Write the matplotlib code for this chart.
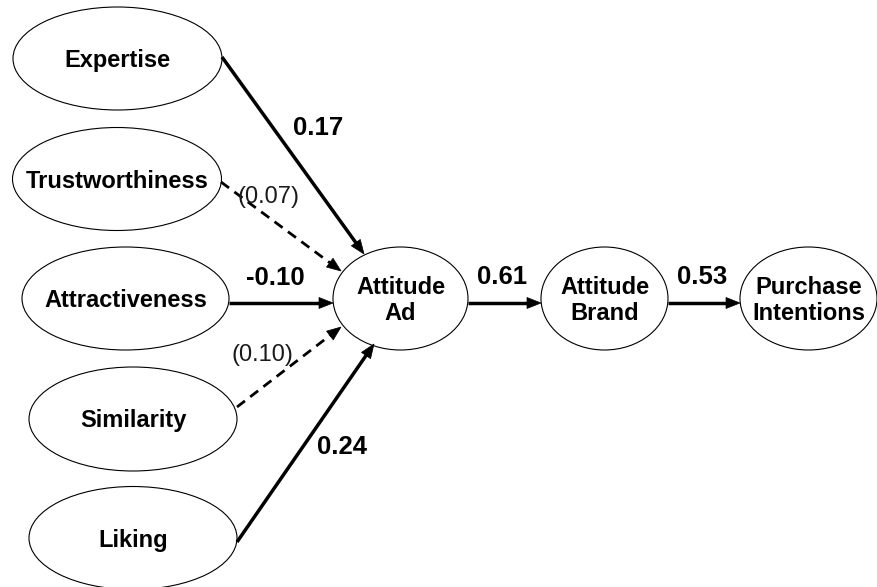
import numpy as np
import matplotlib
import matplotlib.pyplot as plt
from matplotlib.patches import Ellipse, Polygon

matplotlib.use('Agg')

# constructs in the model
sources = ['Expertise', 'Trustworthiness', 'Attractiveness', 'Similarity', 'Liking']
outcomes = ['Attitude\nAd', 'Attitude\nBrand', 'Purchase\nIntentions']

# path coefficients (source, target, estimate, significant)
path_from = ['Expertise', 'Trustworthiness', 'Attractiveness', 'Similarity', 'Liking',
             'Attitude\nAd', 'Attitude\nBrand']
path_to = ['Attitude\nAd'] * 5 + ['Attitude\nBrand', 'Purchase\nIntentions']
path_coef = [0.17, 0.07, -0.10, 0.10, 0.24, 0.61, 0.53]
path_sig = [True, False, True, False, True, True, True]

# layout in pixels (x, y from top) : centre, width, height
node_layout = {
    'Expertise': (117.5, 58.5, 209, 103),
    'Trustworthiness': (117, 179, 209, 103),
    'Attractiveness': (125.5, 298.5, 207, 103),
    'Similarity': (133, 419, 208, 104),
    'Liking': (133, 538, 208, 103),
    'Attitude\nAd': (400.5, 298.5, 135, 103),
    'Attitude\nBrand': (604.5, 298.5, 127, 103),
    'Purchase\nIntentions': (808.5, 298.5, 137, 103),
}
# arrow start / tip and label position for each path
arrow_layout = [
    ((222, 57), (364, 254), (318, 128)),
    ((221, 182), (341, 271), (269, 197)),
    ((229, 303), (333, 303), (275, 278)),
    ((237, 407), (341, 327), (262, 355)),
    ((237, 542), (374, 344), (342, 447)),
    ((468, 303), (541, 303), (502, 277)),
    ((668, 303), (740, 303), (702, 277)),
]

FONT = 'Liberation Sans'

fig = plt.figure(figsize=(8.78, 5.87), dpi=100)
ax = fig.add_axes([0, 0, 1, 1])
ax.set_xlim(0, 878)
ax.set_ylim(587, 0)
ax.axis('off')

for name in sources + outcomes:
    cx, cy, w, h = node_layout[name]
    ax.add_patch(Ellipse((cx, cy), w, h, facecolor='white', edgecolor='black', lw=0.8, zorder=2))
    ax.text(cx, cy + 2, name, ha='center', va='center', fontsize=17, fontweight='bold',
            family=FONT, linespacing=1.12, zorder=3)


def draw_arrow(p0, p1, dashed):
    p0 = np.array(p0, float)
    p1 = np.array(p1, float)
    d = p1 - p0
    d /= np.hypot(*d)
    n = np.array([-d[1], d[0]])
    head_len, head_w = 14, 11
    base = p1 - d * head_len
    shaft_end = p1 - d * head_len * 0.6
    if dashed:
        ax.plot([p0[0], shaft_end[0]], [p0[1], shaft_end[1]], color='black', lw=2.0,
                linestyle=(0, (3.6, 2.4)), solid_capstyle='butt', zorder=4)
    else:
        ax.plot([p0[0], shaft_end[0]], [p0[1], shaft_end[1]], color='black', lw=2.5,
                solid_capstyle='butt', zorder=4)
    ax.add_patch(Polygon([p1, base + n * head_w / 2, base - n * head_w / 2],
                         closed=True, facecolor='black', edgecolor='black', lw=0.5, zorder=5))


for i in range(len(path_coef)):
    start, tip, lab = arrow_layout[i]
    draw_arrow(start, tip, not path_sig[i])
    if path_sig[i]:
        ax.text(lab[0], lab[1], '{:.2f}'.format(path_coef[i]), ha='center', va='center',
                fontsize=18.5, fontweight='bold', family=FONT, zorder=6)
    else:
        ax.text(lab[0], lab[1], '({:.2f})'.format(path_coef[i]), ha='center', va='center',
                fontsize=17, family=FONT, color='#1a1a1a', zorder=6)

fig.savefig('out.png', dpi=100)
